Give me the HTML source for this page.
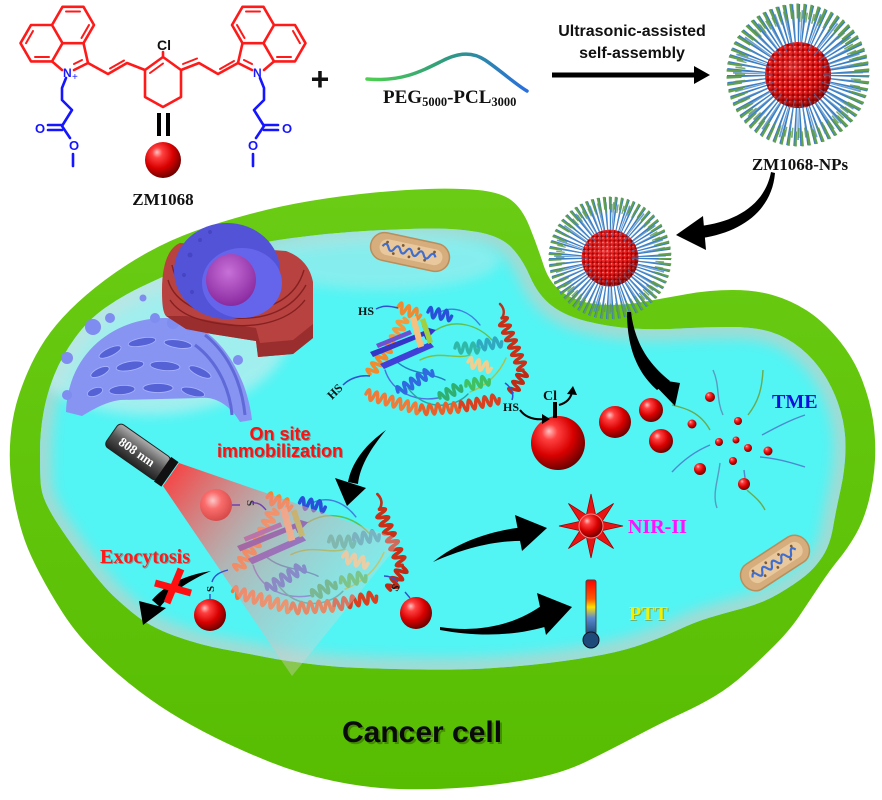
<!DOCTYPE html>
<html><head><meta charset="utf-8">
<style>
html,body{margin:0;padding:0;background:#fff;}
svg{display:block}
.sf{font-family:"Liberation Serif",serif;font-weight:bold}
.ss{font-family:"Liberation Sans",sans-serif;font-weight:bold}
</style></head><body>
<svg width="882" height="800" viewBox="0 0 882 800" xmlns="http://www.w3.org/2000/svg">
<defs>
 <radialGradient id="sph" cx=".4" cy=".36" r=".66" fx=".33" fy=".28">
  <stop offset="0" stop-color="#ffc4c4"/><stop offset=".22" stop-color="#ff4040"/>
  <stop offset=".62" stop-color="#d80000"/><stop offset="1" stop-color="#6a0000"/>
 </radialGradient>
 <radialGradient id="sphp" cx=".4" cy=".36" r=".66">
  <stop offset="0" stop-color="#ffd0d0"/><stop offset=".4" stop-color="#ff6a6a"/><stop offset="1" stop-color="#d84040"/>
 </radialGradient>
 <radialGradient id="shade" cx=".42" cy=".38" r=".62">
  <stop offset="0" stop-color="#fff" stop-opacity=".15"/><stop offset=".6" stop-color="#800" stop-opacity="0"/><stop offset="1" stop-color="#400" stop-opacity=".5"/>
 </radialGradient>
 <radialGradient id="nuc" cx=".45" cy=".35" r=".65">
  <stop offset="0" stop-color="#c870d8"/><stop offset="1" stop-color="#8a2aa0"/>
 </radialGradient>
 <linearGradient id="grn" x1="0" y1="0" x2="0" y2="1">
  <stop offset="0" stop-color="#6acc14"/><stop offset="1" stop-color="#57bd02"/>
 </linearGradient>
 <linearGradient id="peg" x1="0" y1="0" x2="1" y2="0">
  <stop offset="0" stop-color="#4fd04f"/><stop offset=".5" stop-color="#2f9a80"/><stop offset="1" stop-color="#2a6fe0"/>
 </linearGradient>
 <linearGradient id="therm" x1="0" y1="0" x2="0" y2="1">
  <stop offset="0" stop-color="#ff0000"/><stop offset=".35" stop-color="#ff5a00"/><stop offset=".5" stop-color="#ffe000"/><stop offset=".7" stop-color="#5a8ad0"/><stop offset="1" stop-color="#1e4a7a"/>
 </linearGradient>
 <linearGradient id="flg" x1="0" y1="0" x2="0" y2="1">
  <stop offset="0" stop-color="#b0b0b0"/><stop offset=".5" stop-color="#555"/><stop offset="1" stop-color="#222"/>
 </linearGradient>
 <linearGradient id="beam" gradientUnits="userSpaceOnUse" x1="170" y1="470" x2="350" y2="610">
  <stop offset="0" stop-color="#ff3a3a" stop-opacity=".95"/><stop offset=".45" stop-color="#f08a8a" stop-opacity=".6"/><stop offset="1" stop-color="#d8d8d8" stop-opacity=".35"/>
 </linearGradient>
 <pattern id="beads" width="5" height="5" patternUnits="userSpaceOnUse">
  <rect width="5" height="5" fill="#a00000"/><circle cx="2.5" cy="2.5" r="2.3" fill="#ee1c1c"/><circle cx="1.8" cy="1.8" r=".8" fill="#ff9a9a"/>
 </pattern>
 <filter id="bl" x="-20%" y="-20%" width="140%" height="140%"><feGaussianBlur stdDeviation="6"/></filter>
 <clipPath id="cin"><path id="inner" d="M40.5,481 Q40,470 40,451 Q40,432 43.5,412.5 Q47,393 54.5,374.5 Q62,356 75,338 Q88,320 105,308 Q122,296 141,287 Q160,278 182.5,268 Q205,258 230,250.5 Q255,243 292.5,238 Q330,233 365,231 Q400,229 427.5,228.5 Q455,228 477.5,232 Q500,236 511,247 Q522,258 530,276.5 Q538,295 551.5,305.5 Q565,316 587.5,321.5 Q610,327 632.5,328.5 Q655,330 680,328.5 Q705,327 730,327 Q755,327 771,332 Q787,337 801,348.5 Q815,360 825,376 Q835,392 840.5,411 Q846,430 845.5,450 Q845,470 840.5,490 Q836,510 833,527.5 Q830,545 822.5,556.5 Q815,568 805,576 Q795,584 779,593.5 Q763,603 744,608 Q725,613 710,617.5 Q695,622 679,629.5 Q663,637 641.5,644.5 Q620,652 590,657 Q560,662 530,665 Q500,668 475,669 Q450,670 420,669.5 Q390,669 361.5,668 Q333,667 306.5,663.5 Q280,660 265,657 Q250,654 225,649.5 Q200,645 175,636 Q150,627 133.5,613.5 Q117,600 108.5,591 Q100,582 91.5,571 Q83,560 74,547.5 Q65,535 57.5,523.5 Q50,512 45.5,502 Q41,492 40.5,481 Z"/></clipPath>
 <path id="h24" d="M0,0 q2,-10 4,0 q2,10 4,0 q2,-10 4,0 q2,10 4,0 q2,-10 4,0 q2,10 4,0"/>
 <path id="h40" d="M0,0 q2,-10 4,0 q2,10 4,0 q2,-10 4,0 q2,10 4,0 q2,-10 4,0 q2,10 4,0 q2,-10 4,0 q2,10 4,0 q2,-10 4,0 q2,10 4,0"/>
 <path id="h56" d="M0,0 q2,-10 4,0 q2,10 4,0 q2,-10 4,0 q2,10 4,0 q2,-10 4,0 q2,10 4,0 q2,-10 4,0 q2,10 4,0 q2,-10 4,0 q2,10 4,0 q2,-10 4,0 q2,10 4,0 q2,-10 4,0 q2,10 4,0"/>
 <g id="np">
  <circle r="50" fill="none" stroke="#3a7ec4" stroke-width="42" stroke-dasharray="1.8 3.2"/>
  <circle r="48" fill="none" stroke="#4a88c8" stroke-width="34" stroke-dasharray="1.4 5.6" stroke-dashoffset="2.5" opacity=".8"/>
  <circle r="64" fill="none" stroke="#62a04c" stroke-width="15" stroke-dasharray="2.2 4.2" stroke-dashoffset=".8"/>
  <circle r="58" fill="none" stroke="#5a9850" stroke-width="10" stroke-dasharray="1.6 5" stroke-dashoffset="3" opacity=".8"/>
  <circle r="33" fill="url(#beads)"/>
  <circle r="33" fill="url(#shade)"/>
  <circle r="29" fill="none" stroke="#3a7ec4" stroke-width="8" stroke-dasharray="1.2 7" opacity=".6"/>
 </g>
 <g id="mito">
  <rect x="-40" y="-14" width="80" height="28" rx="14" fill="#d6ad7c" stroke="#b98e5c" stroke-width="1.5"/>
  <rect x="-31" y="-8" width="64" height="16" rx="8" fill="#e8c89c"/>
  <path d="M-28,0 q3,-6 6,0 q3,6 6,0 q3,-6 6,0 q3,6 6,0 q3,-6 6,0 q3,6 6,0 q3,-6 6,0 q3,6 6,0 q3,-6 6,0" fill="none" stroke="#3e6ed0" stroke-width="2.2"/>
  <g fill="#7a5a3a"><circle cx="-24" cy="-5" r="1.4"/><circle cx="-16" cy="5" r="1.4"/><circle cx="-8" cy="-5" r="1.4"/><circle cx="0" cy="5" r="1.4"/><circle cx="8" cy="-5" r="1.4"/><circle cx="16" cy="5" r="1.4"/><circle cx="24" cy="-5" r="1.4"/></g>
 </g>
 <g id="prot" fill="none" stroke-linecap="round" stroke-linejoin="round">
  <g stroke-width="1.4">
   <path d="M385,370 C392,392 415,402 438,398" stroke="#5070e0"/>
   <path d="M436,330 C455,318 478,325 492,340" stroke="#60c050"/>
   <path d="M470,392 C488,385 500,372 506,358" stroke="#b0c040"/>
   <path d="M408,388 C425,412 455,408 468,394" stroke="#30a0a0"/>
   <path d="M420,360 C440,350 455,360 470,355" stroke="#80c040"/>
   <path d="M440,312 C455,305 470,312 480,325" stroke="#4080e0"/>
   <path d="M395,360 C410,375 430,372 445,380" stroke="#2080c0"/>
  </g>
  <g stroke-width="3.4">
   <use href="#h40" transform="translate(370,374) rotate(-55)" stroke="#f28a2e"/>
   <use href="#h24" transform="translate(394,340) rotate(-65)" stroke="#f29a3e"/>
   <use href="#h24" transform="translate(398,307) rotate(20)" stroke="#f08a30"/>
   <use href="#h56" transform="translate(366,394) rotate(16)" stroke="#f07a38"/>
   <use href="#h40" transform="translate(420,410) rotate(-4)" stroke="#e8602a"/>
   <use href="#h40" transform="translate(460,407) rotate(-12)" stroke="#d84020"/>
   <use href="#h56" transform="translate(502,318) rotate(68)" stroke="#c83018"/>
   <use href="#h24" transform="translate(524,372) rotate(120)" stroke="#c02a15"/>
   <use href="#h40" transform="translate(398,392) rotate(-32)" stroke="#2f6ae0"/>
   <use href="#h24" transform="translate(440,398) rotate(-30)" stroke="#2fb070"/>
   <use href="#h24" transform="translate(466,386) rotate(-15)" stroke="#40c060"/>
   <use href="#h24" transform="translate(455,348) rotate(0)" stroke="#2fb8a8"/>
   <use href="#h24" transform="translate(478,346) rotate(-10)" stroke="#30a8c0"/>
   <use href="#h24" transform="translate(428,312) rotate(10)" stroke="#2850d8"/>
   <use href="#h24" transform="translate(468,362) rotate(15)" stroke="#f0d090"/>
   <path d="M500,304 C504,308 505,313 502,318" stroke="#c03018" stroke-width="2.5"/>
  </g>
  <g stroke="none">
   <path d="M370,352 L424,331 L422,326 L436,330 L426,340 L424,336 L373,357 Z" fill="#3535c8"/>
   <path d="M380,364 L430,342 L434,347 L384,369 Z" fill="#4040d8"/>
   <path d="M376,344 L410,330 L412,334 L378,348 Z" fill="#7050d0"/>
   <path d="M410,318 L418,348 L424,346 L416,316 Z" fill="#f5c080"/>
   <path d="M420,320 L428,344 L433,342 L425,318 Z" fill="#a0d040"/>
  </g>
 </g>
</defs>

<!-- ===== Chemical structure ===== -->
<g fill="none" stroke="#ff1a1a" stroke-width="2.6" stroke-linecap="round" stroke-linejoin="round">
 <g id="ringL">
  <path d="M94,25 L83.5,43.2 L62.5,43.2 L52,25 L62.5,6.8 L83.5,6.8 Z"/>
  <path d="M62.5,43.2 L52,61.4 L31,61.4 L20.5,43.2 L31,25 L52,25"/>
  <path d="M83.5,43.2 L88,63 L74,70 M62,70 L52,61.4"/>
  <path d="M66,11.5 L80,11.5 M89,25 L81.5,38 M26,43.2 L33,31 M35,57 L49,57 M82,60 L74,64" stroke-width="2"/>
 </g>
 <use href="#ringL" transform="matrix(-1,0,0,1,326,0)"/>
 <path d="M88,63 L108,74 L127,63 L145,70"/>
 <path d="M110,68.5 L124,60.5" stroke-width="2"/>
 <path d="M145,70 L163,57 L181,70 L181,97 L163,107 L145,97 Z"/>
 <path d="M150,73 L163,63.5" stroke-width="2"/>
 <path d="M163,57 L163,52"/>
 <path d="M181,70 L199,63 L218,74 L238,63"/>
 <path d="M183,64 L197,58.5 M220,69 L234,61" stroke-width="2"/>
</g>
<text x="157" y="50" class="ss" font-size="14" fill="#111">Cl</text>
<g class="ss" fill="#1a1aff">
 <text x="63" y="77" font-size="12">N</text><text x="72" y="80" font-size="10" font-weight="normal">+</text>
 <text x="253" y="77" font-size="12">N</text>
</g>
<g fill="none" stroke="#1515ff" stroke-width="2.6" stroke-linecap="round" stroke-linejoin="round">
 <path d="M66,78 L62,88 L62,100 L72,110 L62,126 L70,138 M62,125 L48,125 M62,130 L48,130 M73,154 L73,166"/>
 <path d="M260,78 L264,88 L264,100 L254,110 L264,126 L256,138 M264,125 L278,125 M264,130 L278,130 M253,154 L253,166"/>
</g>
<g class="ss" font-size="13" fill="#1515ff">
 <text x="35" y="133">O</text><text x="69" y="150">O</text>
 <text x="282" y="133">O</text><text x="248" y="150">O</text>
</g>
<rect x="157" y="113" width="4" height="23" fill="#000"/><rect x="166" y="113" width="4" height="23" fill="#000"/>
<circle cx="163" cy="160" r="18" fill="url(#sph)"/>
<text x="163" y="205" class="sf" font-size="17" text-anchor="middle" fill="#111">ZM1068</text>

<!-- plus, PEG -->
<text x="320" y="90" class="ss" font-size="32" text-anchor="middle" fill="#111">+</text>
<path d="M367,79 C400,82 420,72 440,62 C455,54 470,50 485,60 C500,70 515,84 527,91" fill="none" stroke="url(#peg)" stroke-width="3.5" stroke-linecap="round"/>
<text x="383" y="103" class="sf" font-size="19" fill="#111">PEG<tspan font-size="12.5" dy="3">5000</tspan><tspan dy="-3">-PCL</tspan><tspan font-size="12.5" dy="3">3000</tspan></text>

<!-- top arrow -->
<text x="632" y="36" class="ss" font-size="16" text-anchor="middle" fill="#111">Ultrasonic-assisted</text>
<text x="632" y="58" class="ss" font-size="16" text-anchor="middle" fill="#111">self-assembly</text>
<rect x="552" y="72.5" width="146" height="5" fill="#000"/>
<path d="M694,66 L710,75 L694,84 Z" fill="#000"/>

<!-- ===== Cell ===== -->
<path d="M16,508.5 Q12,490 10.5,472.5 Q9,455 10.5,437.5 Q12,420 16,405 Q20,390 27.5,372.5 Q35,355 45,340 Q55,325 70,310 Q85,295 105,280 Q125,265 147.5,252.5 Q170,240 195,231 Q220,222 250,214 Q280,206 310,201 Q340,196 370,193 Q400,190 427.5,189 Q455,188 477.5,190 Q500,192 511,200 Q522,208 529.5,226.5 Q537,245 543.5,265 Q550,285 565,294 Q580,303 600,304.5 Q620,306 642.5,302 Q665,298 687.5,294 Q710,290 732.5,290 Q755,290 772.5,295 Q790,300 806,310 Q822,320 837.5,338.5 Q853,357 861.5,378.5 Q870,400 873,420 Q876,440 875,460 Q874,480 869,500 Q864,520 856,534 Q848,548 839,559 Q830,570 820,585 Q810,600 800,615 Q790,630 775,645 Q760,660 745,673.5 Q730,687 715,696 Q700,705 681.5,713.5 Q663,722 636.5,736 Q610,750 586.5,761.5 Q563,773 531.5,779 Q500,785 465,787.5 Q430,790 398.5,789 Q367,788 333.5,781 Q300,774 270,762 Q240,750 215,737.5 Q190,725 170,712.5 Q150,700 130,684 Q110,668 92.5,650 Q75,632 62.5,612.5 Q50,593 40,574 Q30,555 25,541 Q20,527 16,508.5 Z" fill="url(#grn)"/>
<use href="#inner" fill="#52f4f4"/>
<g clip-path="url(#cin)">
 <use href="#inner" fill="none" stroke="#9fdcd4" stroke-width="24" filter="url(#bl)"/>
 <ellipse cx="150" cy="330" rx="140" ry="85" fill="#c4ecec" opacity=".7" filter="url(#bl)"/>
 <ellipse cx="380" cy="260" rx="120" ry="30" fill="#a8eaea" opacity=".6" filter="url(#bl)"/>
</g>

<!-- mitochondria -->
<use href="#mito" transform="translate(410,252) rotate(12)"/>
<use href="#mito" transform="translate(775,563) rotate(-33) scale(.95,1.05)"/>

<!-- Golgi -->
<g>
 <path d="M66,412 C68,352 115,318 165,318 C212,318 246,368 252,420 L240,422 C230,405 215,396 200,398 L120,400 C105,402 92,410 82,416 Z" fill="#8794f2"/>
 <g fill="#5562d6" stroke="#aab4ff" stroke-width=".8">
  <ellipse cx="110" cy="352" rx="12" ry="4" transform="rotate(-25 110 352)"/>
  <ellipse cx="142" cy="342" rx="14" ry="4" transform="rotate(-10 142 342)"/>
  <ellipse cx="178" cy="344" rx="14" ry="4" transform="rotate(8 178 344)"/>
  <ellipse cx="100" cy="372" rx="10" ry="4" transform="rotate(-25 100 372)"/>
  <ellipse cx="130" cy="366" rx="14" ry="4.5" transform="rotate(-10 130 366)"/>
  <ellipse cx="165" cy="366" rx="15" ry="4.5" transform="rotate(5 165 366)"/>
  <ellipse cx="200" cy="372" rx="12" ry="4" transform="rotate(25 200 372)"/>
  <ellipse cx="95" cy="392" rx="8" ry="4" transform="rotate(-20 95 392)"/>
  <ellipse cx="122" cy="390" rx="13" ry="4.5" transform="rotate(-5 122 390)"/>
  <ellipse cx="158" cy="388" rx="15" ry="4.5"/>
  <ellipse cx="193" cy="392" rx="12" ry="4" transform="rotate(15 193 392)"/>
 </g>
 <path d="M205,335 C230,355 242,385 245,415 M195,345 C218,362 230,390 232,415" fill="none" stroke="#5f6ad8" stroke-width="3"/>
 <g fill="#7f8cf0">
  <circle cx="143" cy="298" r="3.5"/><circle cx="67" cy="358" r="6"/><circle cx="67" cy="395" r="5"/><circle cx="238" cy="360" r="5"/>
  <circle cx="93" cy="327" r="8"/><circle cx="173" cy="323" r="6"/><circle cx="110" cy="318" r="5"/><circle cx="155" cy="318" r="5"/><circle cx="190" cy="326" r="5"/>
 </g>
</g>

<!-- ER + nucleus -->
<g>
 <path d="M180,243 C168,248 162,265 162,290 C162,305 163,312 166,316 L186,329 L212,334 L237,338 L256,341 L258,357 L293,354 L313,338 L313,282 C310,266 300,256 286,251 Z" fill="#b8423f"/>
 <path d="M166,316 L186,329 L212,334 L237,338 L256,341 L258,357 L293,354 L313,338 L313,324 L293,340 L260,343 L256,328 L212,321 L186,316 Z" fill="#9a2e2e"/>
 <g fill="none" stroke="#862020" stroke-width="1.4">
  <path d="M170,300 C180,315 200,322 230,325 C260,328 290,320 305,300"/>
  <path d="M168,280 C175,305 205,315 235,318 C265,320 292,310 306,285"/>
  <path d="M172,265 C178,295 210,308 240,310 C270,311 296,298 304,270"/>
 </g>
 <ellipse cx="227" cy="271" rx="53" ry="48" fill="#5353d8"/>
 <ellipse cx="242" cy="283" rx="40" ry="35" fill="#6565ec"/>
 <g fill="#4646c4"><circle cx="190" cy="255" r="2.5"/><circle cx="200" cy="240" r="2"/><circle cx="184" cy="275" r="2"/><circle cx="210" cy="232" r="2"/><circle cx="192" cy="292" r="2"/></g>
 <ellipse cx="231" cy="280" rx="25" ry="26" fill="url(#nuc)"/>
</g>

<!-- top protein -->
<use href="#prot"/>
<g fill="none" stroke="#3050d0" stroke-width="1.5">
 <path d="M376,309 C383,305 390,306 398,308"/>
 <path d="M343,385 C350,378 360,375 370,376"/>
 <path d="M505,383 C512,388 514,394 512,400"/>
</g>
<g class="sf" font-size="12" fill="#111">
 <text x="358" y="315">HS</text>
 <text x="332" y="400" transform="rotate(-45 332 400)">HS</text>
 <text x="503" y="411">HS</text>
</g>

<!-- bottom protein -->
<use href="#prot" transform="translate(-162.6,165.8) scale(1.08)"/>

<!-- beam -->
<path d="M179,463 L163,486 L292,676 L402,540 Z" fill="url(#beam)"/>

<!-- flashlight -->
<g transform="translate(138,452) rotate(35)">
 <rect x="-32" y="-14" width="64" height="28" rx="5" fill="url(#flg)" stroke="#222" stroke-width="1"/>
 <rect x="30" y="-15" width="9" height="30" fill="#111"/>
 <text x="-1" y="5" class="sf" font-size="13" text-anchor="middle" fill="#fff">808 nm</text>
</g>

<!-- spheres with S -->
<circle cx="216" cy="505" r="16" fill="url(#sphp)" opacity=".9"/>
<path d="M232,505 L240,505 M252,503 C258,502 262,505 266,510" stroke="#7040b0" stroke-width="1.4" fill="none"/>
<text x="247" y="500" class="sf" font-size="11" fill="#333" transform="rotate(90 247 500)">S</text>
<circle cx="210" cy="615" r="16" fill="url(#sph)"/>
<path d="M210,599 L210,594 M212,582 C214,575 220,572 228,570" stroke="#3050d0" stroke-width="1.4" fill="none"/>
<text x="214" y="592" class="sf" font-size="11" fill="#111" transform="rotate(-90 214 592)">S</text>
<circle cx="416" cy="613" r="16" fill="url(#sph)"/>
<path d="M410,598 L405,592 M398,582 C394,578 390,576 384,576" stroke="#3050d0" stroke-width="1.4" fill="none"/>
<text x="397" y="592" class="sf" font-size="11" fill="#111" transform="rotate(-60 397 592)">S</text>

<!-- Cl release sphere -->
<circle cx="558" cy="443" r="27" fill="url(#sph)"/>
<rect x="553" y="402" width="4" height="16" fill="#000"/>
<text x="543" y="400" class="sf" font-size="14" fill="#111">Cl</text>
<path d="M520,410 Q528,421 546,419" fill="none" stroke="#000" stroke-width="2"/>
<path d="M542,414 L550,419 L542,424 Z" fill="#000"/>
<path d="M559,405 Q570,402 572,392" fill="none" stroke="#000" stroke-width="2"/>
<path d="M567,394 L573,386 L577,395 Z" fill="#000"/>
<circle cx="615" cy="422" r="16" fill="url(#sph)"/>
<circle cx="651" cy="410" r="12" fill="url(#sph)"/>
<circle cx="661" cy="441" r="12" fill="url(#sph)"/>

<!-- TME -->
<g fill="none" stroke-width="1.4">
 <path d="M713,370 C720,385 716,400 723,415" stroke="#5a9ac0"/>
 <path d="M763,370 C762,390 758,402 748,415" stroke="#6aaa50"/>
 <path d="M805,415 C790,420 775,428 762,435" stroke="#4a8ad0"/>
 <path d="M672,405 C685,408 700,412 710,430" stroke="#6aaa50"/>
 <path d="M672,472 C685,458 698,450 710,445" stroke="#4a8ad0"/>
 <path d="M717,508 C712,495 718,480 720,463" stroke="#5a9ac0"/>
 <path d="M765,510 C760,500 752,495 747,490" stroke="#6aaa50"/>
 <path d="M805,467 C790,462 775,458 760,457" stroke="#4a8ad0"/>
 <path d="M744,470 L745,478" stroke="#4a8ad0"/>
</g>
<g fill="url(#sph)">
 <circle cx="710" cy="397" r="5"/><circle cx="692" cy="424" r="4.5"/><circle cx="738" cy="421" r="4"/>
 <circle cx="719" cy="442" r="4"/><circle cx="736" cy="440" r="3.5"/><circle cx="748" cy="448" r="4"/>
 <circle cx="768" cy="451" r="4.5"/><circle cx="733" cy="461" r="4"/><circle cx="700" cy="469" r="6"/><circle cx="744" cy="484" r="6"/>
</g>
<text x="772" y="408" class="sf" font-size="20" fill="#1010dd">TME</text>

<!-- NIR-II star -->
<path d="M591,494 L595.6,514.9 L613.6,503.4 L602.1,521.4 L623,526 L602.1,530.6 L613.6,548.6 L595.6,537.1 L591,558 L586.4,537.1 L568.4,548.6 L579.9,530.6 L559,526 L579.9,521.4 L568.4,503.4 L586.4,514.9 Z" fill="#e81414" stroke="#a00000" stroke-width=".8"/>
<circle cx="591" cy="526" r="12" fill="url(#sph)" stroke="#ff8080" stroke-width="1"/>
<text x="628" y="533" class="sf" font-size="20" fill="#ff10ff">NIR-II</text>

<!-- thermometer -->
<rect x="586" y="580" width="10" height="54" rx="2" fill="url(#therm)" stroke="#444" stroke-width="1"/>
<circle cx="591" cy="640" r="8" fill="#1e4a7a" stroke="#112" stroke-width="1"/>
<text x="630" y="621" class="sf" font-size="20" fill="#807000" opacity=".5">PTT</text>
<text x="629" y="620" class="sf" font-size="20" fill="#f5f000">PTT</text>

<!-- NPs -->
<use href="#np" transform="translate(798,75)"/>
<text x="800" y="170" class="sf" font-size="17" text-anchor="middle" fill="#111">ZM1068-NPs</text>
<use href="#np" transform="translate(610,258) scale(.86)"/>

<!-- black arrows -->
<g fill="#000">
 <path d="M771,172 C765,205 735,222 700,226 L702,238 C742,232 772,210 775,173 Z"/>
 <path d="M676,235 L703,216 L706,250 Z"/>
 <path d="M627,312 C627,352 640,375 657,390 L670,381 C650,365 635,345 631,312 Z"/>
 <path d="M648,378 L680,383 L675,406 Z"/>
 <path d="M386,430 C365,445 352,462 348,482 L358,484 C360,465 372,447 386,430 Z"/>
 <path d="M335,478 L366,488 L347,506 Z"/>
 <path d="M211,571 C185,575 165,585 152,600 L160,607 C172,592 190,580 211,571 Z"/>
 <path d="M139,601 L166,608 L143,625 Z"/>
 <path d="M433,562 C460,540 495,530 525,527 L527,541 C495,540 465,548 433,562 Z"/>
 <path d="M515,515 L547,528 L522,551 Z"/>
 <path d="M440,627 C480,633 515,625 544,604 L548,626 C515,636 478,637 440,630 Z"/>
 <path d="M537,593 L572,607 L546,635 Z"/>
</g>

<!-- red X -->
<path d="M155,583 L191,593 M181,569 L167,603" stroke="#ff1010" stroke-width="7" stroke-linecap="butt"/>

<!-- labels -->
<g class="ss" font-size="18" text-anchor="middle">
 <text x="281" y="441" fill="#700" opacity=".35">On site</text>
 <text x="281" y="458" fill="#700" opacity=".35">immobilization</text>
 <text x="280" y="440" fill="#ff1010">On site</text>
 <text x="280" y="457" fill="#ff1010">immobilization</text>
</g>
<text x="101" y="564" class="sf" font-size="20" fill="#700" opacity=".3">Exocytosis</text>
<text x="100" y="563" class="sf" font-size="20" fill="#ff1a1a">Exocytosis</text>
<text x="344" y="744" class="ss" font-size="30" fill="#000" opacity=".25">Cancer cell</text>
<text x="342" y="742" class="ss" font-size="30" fill="#0a0a0a">Cancer cell</text>
</svg>
</body></html>
